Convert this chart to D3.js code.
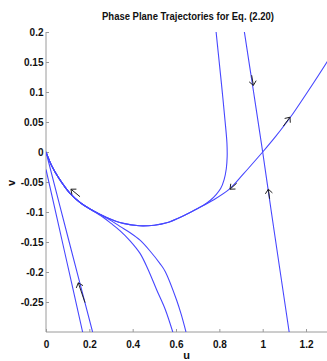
<!DOCTYPE html>
<html>
<head>
<meta charset="utf-8">
<script src="https://cdn.jsdelivr.net/npm/d3@7"></script>
<style>
  html, body { margin: 0; padding: 0; background: #fff; }
  svg { display: block; }
  .tick text { font-family: "Liberation Sans", Arial, sans-serif; font-weight: bold; font-size: 10px; fill: #111; }
</style>
</head>
<body>
<svg id="chart" width="327" height="361"></svg>
<script>
// Axis ticks
const xTicks = [0, 0.2, 0.4, 0.6, 0.8, 1, 1.2];
const yTicks = [0.2, 0.15, 0.1, 0.05, 0, -0.05, -0.1, -0.15, -0.2, -0.25];

// Heteroclinic orbit from the saddle (1,0) into the origin, points as [u, v]
const heteroclinic = [[1, 0], [0.91, -0.037], [0.849, -0.061], [0.772, -0.080], [0.70, -0.094],
  [0.63, -0.107], [0.557, -0.118], [0.5, -0.122], [0.43, -0.123], [0.357, -0.119], [0.28, -0.109],
  [0.203, -0.095], [0.16, -0.085], [0.111, -0.069], [0.06, -0.044], [0.025, -0.022], [0, 0]];
// Unstable manifold of (1,0) leaving to the right
const unstableRight = [[1, 0], [1.06, 0.026], [1.126, 0.057], [1.203, 0.098], [1.3, 0.152], [1.34, 0.176]];
// Stable manifold of (1,0)
const stableLine = [[0.9155, 0.2], [0.958, 0.1], [1.0, 0], [1.04, -0.1], [1.081, -0.2], [1.123, -0.302]];
// Trajectory entering from the top and merging into the heteroclinic orbit
const upperBranch = [[0.785, 0.2], [0.795, 0.165], [0.811, 0.109], [0.826, 0.053], [0.835, 0.015],
  [0.836, -0.008], [0.832, -0.028], [0.822, -0.046], [0.806, -0.061], [0.785, -0.071], [0.76, -0.080],
  [0.73, -0.088]];
// Trajectories entering from the bottom and merging near u = 0.25
const lowerBranchA = [[0.585, -0.3], [0.55, -0.262], [0.511, -0.23], [0.47, -0.195], [0.434, -0.169],
  [0.388, -0.148], [0.341, -0.131], [0.30, -0.119], [0.26, -0.108]];
const lowerBranchB = [[0.646, -0.3], [0.625, -0.272], [0.603, -0.247], [0.55, -0.199], [0.526, -0.186],
  [0.48, -0.165], [0.434, -0.147], [0.39, -0.135], [0.341, -0.124], [0.29, -0.112]];
// Near-straight trajectories along the fast direction of the origin
const fastInner = [[0, 0], [0.107, -0.15], [0.215, -0.3]];
const fastOuter = [[0, -0.029], [0.085, -0.165], [0.169, -0.3]];

// Direction arrows: [uTail, vTail, uTip, vTip]
const arrows = [
  [0.157, -0.0745, 0.115, -0.062],
  [0.880, -0.052, 0.849, -0.062],
  [0.949, 0.128, 0.957, 0.111],
  [1.032, -0.078, 1.026, -0.062],
  [1.095, 0.043, 1.126, 0.058],
  [0.180, -0.251, 0.149, -0.218]
];

const svg = d3.select("#chart");
const x = d3.scaleLinear().domain([0, 1.3]).range([46, 327.7]);
const y = d3.scaleLinear().domain([-0.3, 0.2]).range([332, 32]);

svg.append("clipPath").attr("id", "plot")
  .append("rect").attr("x", x(0)).attr("y", y(0.2))
  .attr("width", x(1.3) - x(0)).attr("height", y(-0.3) - y(0.2));

// Axes (inward ticks, left and bottom only)
const fmt = d => String(+d.toFixed(2));
const gx = svg.append("g").attr("transform", `translate(0,${y(-0.3)})`)
  .call(d3.axisBottom(x).tickValues(xTicks).tickFormat(fmt).tickSize(-3).tickPadding(8.5));
const gy = svg.append("g").attr("transform", `translate(${x(0)},0)`)
  .call(d3.axisLeft(y).tickValues(yTicks).tickFormat(fmt).tickSize(-3).tickPadding(2.5));
[gx, gy].forEach(g => {
  g.select(".domain").attr("stroke", "#9a9a9a").attr("stroke-width", 1);
  g.selectAll(".tick line").attr("stroke", "#9a9a9a");
});
gx.select(".domain").attr("d", `M${x(0)},0H${x(1.3)}`);
gy.select(".domain").attr("d", `M0,${y(-0.3)}V${y(0.2)}`);

// Trajectories
const line = d3.line().x(d => x(d[0])).y(d => y(d[1])).curve(d3.curveCatmullRom.alpha(0.5));
const toOrigin = maxU => heteroclinic.filter(p => p[0] < maxU);
const paths = [
  heteroclinic,
  unstableRight,
  stableLine,
  upperBranch.concat(toOrigin(0.71)),
  lowerBranchA.concat(toOrigin(0.24)),
  lowerBranchB.concat(toOrigin(0.24)),
  fastInner,
  fastOuter
];
svg.append("g").attr("clip-path", "url(#plot)")
  .selectAll("path").data(paths).join("path")
  .attr("d", line)
  .attr("fill", "none")
  .attr("stroke", "#4747ff")
  .attr("stroke-width", 1.1);

// Arrows with open heads
const head = 5.5, spread = 40 * Math.PI / 180;
const ga = svg.append("g").attr("stroke", "#222").attr("stroke-width", 1).attr("fill", "none");
arrows.forEach(a => {
  const x0 = x(a[0]), y0 = y(a[1]), x1 = x(a[2]), y1 = y(a[3]);
  const ang = Math.atan2(y1 - y0, x1 - x0);
  const h1 = [x1 - head * Math.cos(ang - spread), y1 - head * Math.sin(ang - spread)];
  const h2 = [x1 - head * Math.cos(ang + spread), y1 - head * Math.sin(ang + spread)];
  ga.append("path").attr("d", `M${x0},${y0}L${x1},${y1}M${h1[0]},${h1[1]}L${x1},${y1}L${h2[0]},${h2[1]}`);
});

// Title and axis labels
svg.append("text").attr("x", 188).attr("y", 20).attr("text-anchor", "middle")
  .attr("font-family", "Liberation Sans, Arial, sans-serif").attr("font-weight", "bold")
  .attr("font-size", 11).attr("textLength", 172).attr("lengthAdjust", "spacingAndGlyphs")
  .attr("fill", "#111").text("Phase Plane Trajectories for Eq. (2.20)");
svg.append("text").attr("x", 186.5).attr("y", 359).attr("text-anchor", "middle")
  .attr("font-family", "Liberation Sans, Arial, sans-serif").attr("font-weight", "bold")
  .attr("font-size", 11).attr("fill", "#111").text("u");
svg.append("text").attr("transform", "translate(14.5,183) rotate(-90)").attr("text-anchor", "middle")
  .attr("font-family", "Liberation Sans, Arial, sans-serif").attr("font-weight", "bold")
  .attr("font-size", 11).attr("fill", "#111").text("v");
</script>
</body>
</html>
